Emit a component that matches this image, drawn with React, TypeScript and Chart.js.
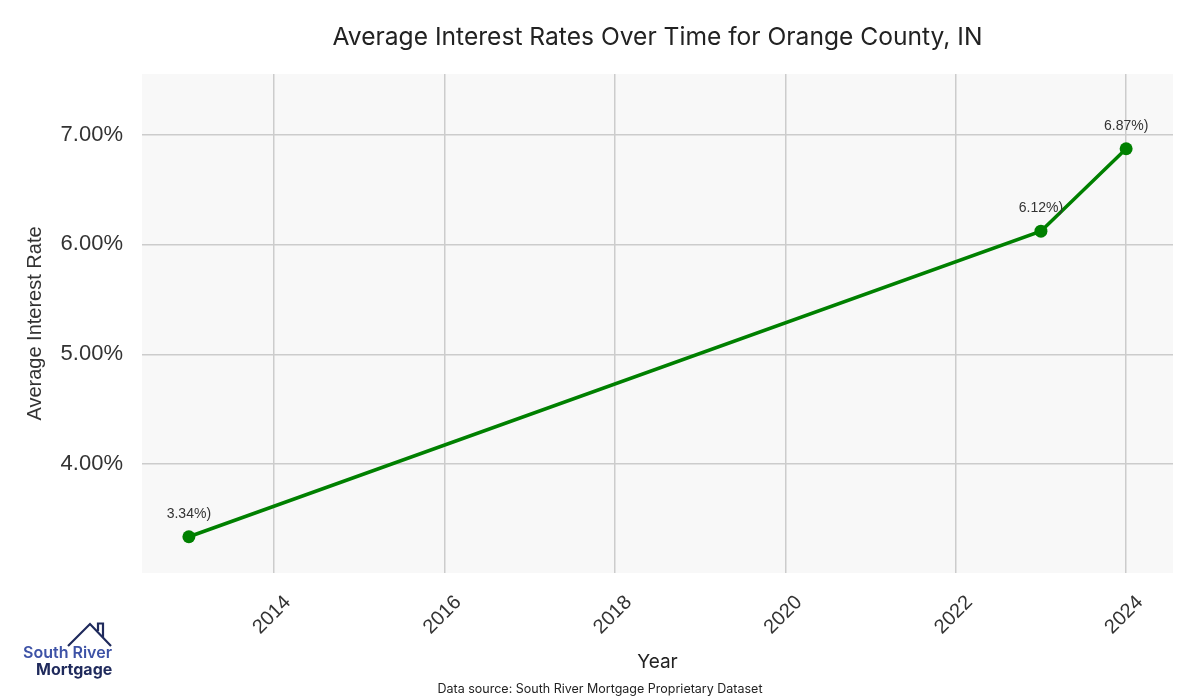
import React, { useEffect, useRef } from "react";
import { Chart, registerables } from "chart.js";

Chart.register(...registerables);

const years = [2013, 2023, 2024];
const rates = [3.34, 6.12, 6.87];
const xTickYears = [2014, 2016, 2018, 2020, 2022, 2024];
const titleText = "Average Interest Rates Over Time for Orange County, IN";
const xTitle = "Year";
const yTitle = "Average Interest Rate";
const footerText = "Data source: South River Mortgage Proprietary Dataset";

const SANS = "Inter, 'Noto Sans', sans-serif";
const ARIAL = "'Liberation Sans', Arial, sans-serif";

const overlayPlugin = {
  id: "overlay",
  beforeDraw(chart: any) {
    const { ctx, chartArea } = chart;
    ctx.save();
    ctx.fillStyle = "#f8f8f8";
    ctx.fillRect(chartArea.left, chartArea.top, chartArea.right - chartArea.left, chartArea.bottom - chartArea.top);
    ctx.restore();
  },
  afterDraw(chart: any) {
    const { ctx, chartArea, scales } = chart;
    const xs = scales.x;
    const ys = scales.y;
    const cx = (chartArea.left + chartArea.right) / 2;
    ctx.save();
    // title
    ctx.fillStyle = "#222";
    ctx.textAlign = "center";
    ctx.textBaseline = "middle";
    ctx.font = `24.6px ${SANS}`;
    ctx.fillText(titleText, cx, 38);
    // x tick labels (rotated, centered)
    ctx.font = `20px ${ARIAL}`;
    ctx.fillStyle = "#333";
    xTickYears.forEach((v) => {
      const px = xs.getPixelForValue(v);
      ctx.save();
      ctx.translate(px - 2, 615);
      ctx.rotate(-Math.PI / 4);
      ctx.textAlign = "center";
      ctx.textBaseline = "middle";
      ctx.fillText(String(v), 0, 0);
      ctx.restore();
    });
    // x title
    ctx.font = `19px ${SANS}`;
    ctx.fillStyle = "#222";
    ctx.fillText(xTitle, cx, 662);
    // footer
    ctx.font = `12.5px ${SANS}`;
    ctx.fillText(footerText, 600, 689);
    // y title
    ctx.save();
    ctx.translate(35, (chartArea.top + chartArea.bottom) / 2);
    ctx.rotate(-Math.PI / 2);
    ctx.font = `20px ${ARIAL}`;
    ctx.fillStyle = "#333";
    ctx.fillText(yTitle, 0, 0);
    ctx.restore();
    // data labels
    ctx.font = `14px ${ARIAL}`;
    ctx.fillStyle = "#333";
    years.forEach((yr, i) => {
      const px = xs.getPixelForValue(yr);
      const py = ys.getPixelForValue(rates[i]);
      ctx.fillText(rates[i].toFixed(2) + "%)", px, py - 23);
    });
    // logo
    ctx.strokeStyle = "#1f2a5c";
    ctx.lineWidth = 2.2;
    ctx.lineJoin = "miter";
    ctx.beginPath();
    ctx.moveTo(68, 646);
    ctx.lineTo(90, 624);
    ctx.lineTo(111, 646);
    ctx.stroke();
    ctx.beginPath();
    ctx.moveTo(98, 631);
    ctx.lineTo(98, 623.5);
    ctx.lineTo(103, 623.5);
    ctx.lineTo(103, 637);
    ctx.stroke();
    ctx.textAlign = "left";
    ctx.textBaseline = "alphabetic";
    ctx.font = `600 16px ${SANS}`;
    ctx.fillStyle = "#3d52a6";
    ctx.fillText("South River", 23, 658);
    ctx.font = `700 16px ${SANS}`;
    ctx.fillStyle = "#1f2a5c";
    ctx.fillText("Mortgage", 36, 675);
    ctx.restore();
  },
};

export default function App() {
  const ref = useRef<HTMLCanvasElement>(null);
  useEffect(() => {
    document.body.style.margin = "0";
    const canvas = ref.current!;
    const chart = new Chart(canvas, {
      type: "line",
      data: {
        datasets: [
          {
            data: years.map((y, i) => ({ x: y, y: rates[i] })),
            borderColor: "#008000",
            backgroundColor: "#008000",
            borderWidth: 3.5,
            pointRadius: 6.5,
            pointBackgroundColor: "#008000",
            pointBorderColor: "#008000",
            pointBorderWidth: 0,
            tension: 0,
          },
        ],
      },
      options: {
        responsive: false,
        animation: false,
        devicePixelRatio: 1,
        layout: { padding: { top: 74, right: 27, bottom: 0, left: 0 } },
        plugins: { legend: { display: false }, tooltip: { enabled: false }, title: { display: false } },
        scales: {
          x: {
            type: "linear",
            min: 2012.45,
            max: 2024.55,
            afterFit: (s: any) => {
              s.height = 127;
            },
            ticks: { display: false, stepSize: 2, includeBounds: false },
            grid: { color: "#cccccc", lineWidth: 1.5, drawTicks: false },
            border: { display: false },
          },
          y: {
            type: "linear",
            min: 3.01,
            max: 7.55,
            afterFit: (s: any) => {
              s.width = 142;
            },
            ticks: {
              stepSize: 1,
              includeBounds: false,
              padding: 19,
              color: "#333",
              font: { family: ARIAL, size: 22 },
              callback: (v: any) => Number(v).toFixed(2) + "%",
            },
            grid: { color: "#cccccc", lineWidth: 1.5, drawTicks: false },
            border: { display: false },
          },
        },
      },
      plugins: [overlayPlugin],
    });
    return () => chart.destroy();
  }, []);
  return (
    <div style={{ width: 1200, height: 700, background: "#fff" }}>
      <canvas ref={ref} width={1200} height={700} style={{ display: "block" }} />
    </div>
  );
}
